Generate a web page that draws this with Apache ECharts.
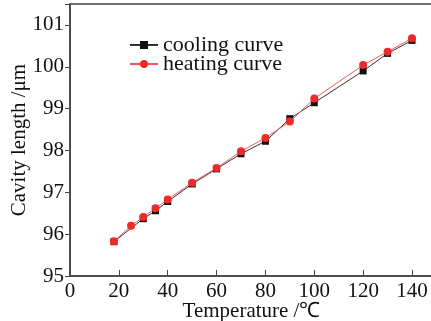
<!DOCTYPE html>
<html>
<head>
<meta charset="utf-8">
<script src="https://cdn.jsdelivr.net/npm/echarts@6/dist/echarts.min.js"></script>
<style>
  html, body { margin: 0; padding: 0; background: #fff; }
  #chart { width: 431px; height: 321px; }
</style>
</head>
<body>
<div id="chart"></div>
<script>
// heating curve (red circles)
const heatingTemp = [18, 25, 30, 35, 40, 50, 60, 70, 80, 90, 100, 120, 130, 140]
const heatingLen = [95.83, 96.20, 96.41, 96.62, 96.83, 97.23, 97.58, 97.98, 98.30, 98.69, 99.24, 100.04, 100.36, 100.68]
// cooling curve (black squares)
const coolingTemp = [18, 30, 35, 40, 50, 60, 70, 80, 90, 100, 120, 130, 140]
const coolingLen = [95.82, 96.37, 96.56, 96.78, 97.20, 97.56, 97.92, 98.22, 98.76, 99.14, 99.90, 100.32, 100.63]

const font = 'Liberation Serif'
const axisColor = '#444'

function pairs(xs, ys) {
  return xs.map((x, i) => [x, ys[i]])
}

const chart = echarts.init(document.getElementById('chart'))
chart.setOption({
  animation: false,
  grid: {
    left: 70,
    right: -2,
    top: 4,
    bottom: 45,
    containLabel: false,
    outerBoundsMode: 'none',
    show: true,
    borderColor: axisColor,
    borderWidth: 1.5
  },
  legend: {
    orient: 'vertical',
    left: 124,
    top: 29,
    itemWidth: 28,
    itemHeight: 10,
    itemGap: -3,
    data: ['cooling curve', 'heating curve'],
    textStyle: { fontFamily: font, fontSize: 22, color: '#111' }
  },
  xAxis: {
    type: 'value',
    min: 0,
    max: 148.6,
    interval: 20,
    name: 'Temperature /℃',
    nameLocation: 'middle',
    nameGap: 25,
    nameMoveOverlap: false,
    nameTextStyle: { fontFamily: font, fontSize: 21, color: '#111' },
    axisLine: { lineStyle: { color: axisColor, width: 1.5 } },
    axisTick: { inside: true, length: 6, lineStyle: { color: axisColor } },
    axisLabel: { fontFamily: font, fontSize: 21, color: '#111', margin: 5, showMaxLabel: false },
    splitLine: { show: false }
  },
  yAxis: {
    type: 'value',
    min: 95,
    max: 101.5,
    interval: 1,
    name: 'Cavity length /μm',
    nameLocation: 'middle',
    nameGap: 40,
    nameMoveOverlap: false,
    nameTextStyle: { fontFamily: font, fontSize: 21, color: '#111' },
    axisLine: { lineStyle: { color: axisColor, width: 1.5 } },
    axisTick: { inside: false, length: 5, lineStyle: { color: axisColor } },
    axisLabel: {
      fontFamily: font, fontSize: 21, color: '#111', margin: 6,
      formatter: v => (v % 1 === 0 ? String(v) : '')
    },
    splitLine: { show: false }
  },
  series: [
    {
      name: 'cooling curve',
      type: 'line',
      data: pairs(coolingTemp, coolingLen),
      symbol: 'rect',
      symbolSize: 7,
      lineStyle: { color: '#333', width: 1 },
      itemStyle: { color: '#111' },
      z: 2
    },
    {
      name: 'heating curve',
      type: 'line',
      data: pairs(heatingTemp, heatingLen),
      symbol: 'circle',
      symbolSize: 8,
      lineStyle: { color: '#f25a5a', width: 1 },
      itemStyle: { color: '#ee2a2a' },
      z: 3
    }
  ]
})
</script>
</body>
</html>
